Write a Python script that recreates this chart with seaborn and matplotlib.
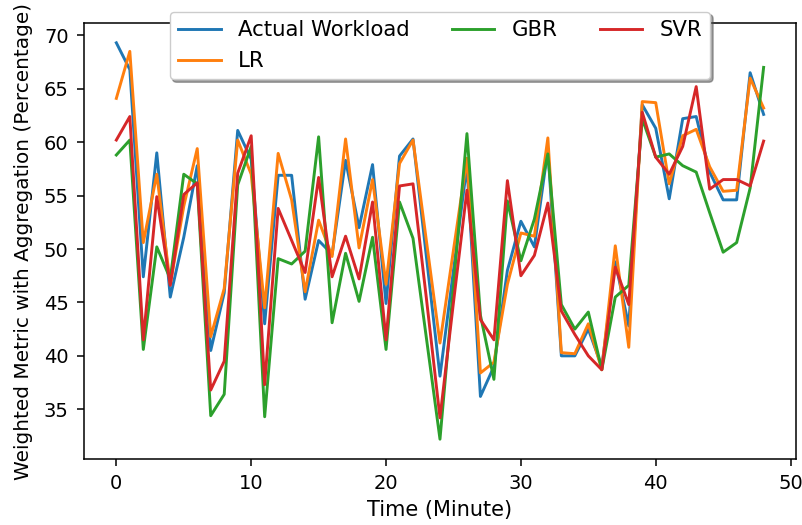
import matplotlib
matplotlib.use("Agg")
import matplotlib.pyplot as plt
import seaborn as sns
import numpy as np
import pandas as pd

minutes = list(range(49))

actual = [69.3, 66.8, 47.4, 59.0, 45.5, 51.1, 57.8, 40.5, 45.9, 61.1,
          58.4, 43.0, 56.9, 56.9, 45.3, 50.8, 49.5, 58.3, 52.0, 57.9,
          44.9, 58.7, 60.3, 49.2, 38.1, 48.0, 57.8, 36.2, 39.0, 48.0,
          52.6, 50.2, 59.3, 40.0, 40.0, 42.5, 39.0, 48.8, 42.8, 63.5,
          61.3, 54.7, 62.2, 62.4, 57.2, 54.6, 54.6, 66.5, 62.6]

lr = [64.1, 68.5, 50.6, 57.0, 46.7, 54.0, 59.4, 41.8, 46.3, 60.2,
      57.0, 44.5, 58.95, 54.6, 46.0, 52.7, 49.3, 60.3, 50.1, 56.5,
      46.7, 58.0, 60.2, 50.7, 41.2, 49.9, 58.5, 38.4, 39.4, 46.7,
      51.5, 51.2, 60.4, 40.3, 40.2, 43.0, 38.7, 50.3, 40.8, 63.8,
      63.7, 56.1, 60.6, 61.2, 57.7, 55.4, 55.5, 66.0, 63.2]

gbr = [58.8, 60.2, 40.6, 50.2, 47.2, 57.0, 56.1, 34.4, 36.4, 56.0,
       59.6, 34.3, 49.1, 48.6, 49.8, 60.5, 43.1, 49.6, 45.1, 51.1,
       40.6, 54.4, 51.0, 41.6, 32.2, 46.5, 60.8, 43.8, 37.8, 54.5,
       48.9, 52.8, 58.9, 44.8, 42.5, 44.1, 38.7, 45.5, 46.6, 62.2,
       58.6, 58.9, 57.8, 57.2, 53.4, 49.7, 50.6, 55.7, 67.0]

svr = [60.2, 62.4, 41.5, 54.9, 46.6, 55.1, 56.2, 36.8, 39.5, 57.1,
       60.6, 37.3, 53.8, 50.8, 47.8, 56.7, 47.4, 51.2, 47.2, 54.4,
       41.5, 55.9, 56.1, 45.3, 34.2, 45.0, 55.5, 43.4, 41.5, 56.4,
       47.5, 49.4, 54.3, 44.2, 42.0, 40.0, 38.7, 48.3, 44.8, 62.8,
       58.6, 57.0, 59.6, 65.2, 55.6, 56.5, 56.5, 55.9, 60.1]

series_names = ["Actual Workload", "LR", "GBR", "SVR"]
series_values = [actual, lr, gbr, svr]
colors = ["#1f77b4", "#ff7f0e", "#2ca02c", "#d62728"]

plt.rcParams['font.family'] = ['DejaVu Sans']
plt.rcParams['font.size'] = 14

fig = plt.figure(figsize=(8.02, 5.25), dpi=100)
ax = fig.add_axes([0.1047, 0.1257, 0.8878, 0.8305])

for name, vals, c in zip(series_names, series_values, colors):
    df = pd.DataFrame({"Time": minutes, "Value": vals})
    sns.lineplot(data=df, x="Time", y="Value", ax=ax, color=c, label=name,
                 linewidth=2.1)

ax.set_xlabel("Time (Minute)", fontsize=15, labelpad=5)
ax.set_ylabel("Weighted Metric with Aggregation (Percentage)", fontsize=14.4,
              labelpad=8)
ax.tick_params(labelsize=14, pad=6, length=5, width=1.1)
ax.set_xticks([0, 10, 20, 30, 40, 50])
ax.set_yticks([35, 40, 45, 50, 55, 60, 65, 70])
for s in ax.spines.values():
    s.set_linewidth(1.1)

ax.legend(loc="upper center", bbox_to_anchor=(0.5, 1.05), ncol=3,
          fancybox=True, shadow=True, fontsize=15.3)

fig.savefig("out.png", dpi=100)
